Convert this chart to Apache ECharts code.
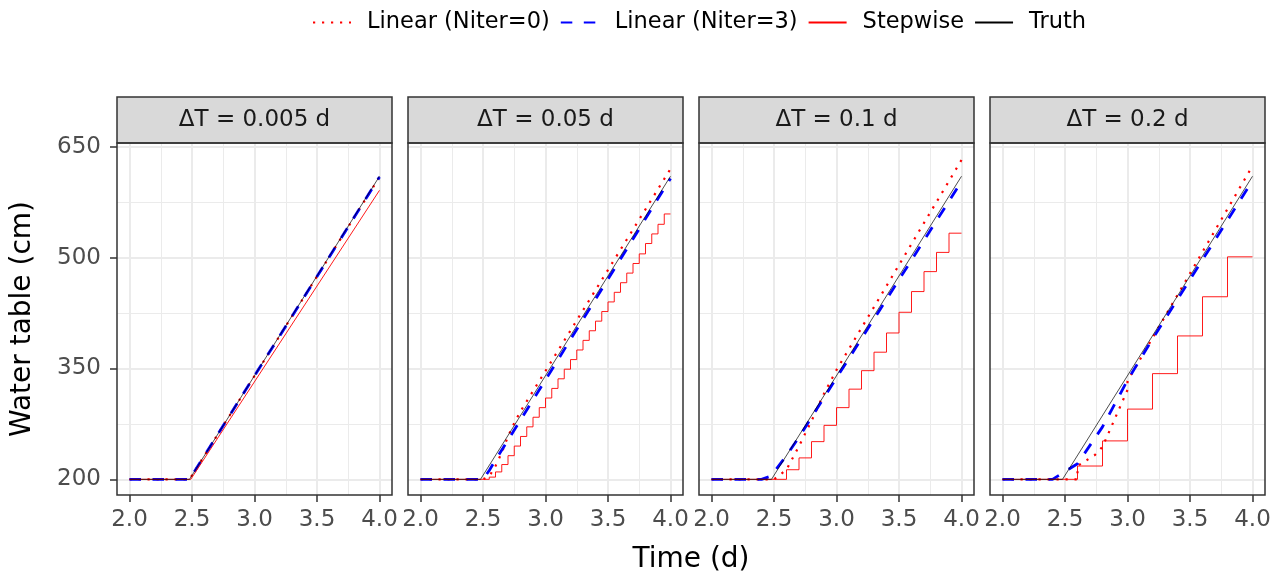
<!DOCTYPE html>
<html><head><meta charset="utf-8">
<script src="https://cdn.jsdelivr.net/npm/echarts@6/dist/echarts.min.js"></script>
<style>html,body{margin:0;padding:0;background:#fff}#c{width:1282px;height:582px}</style>
</head><body><div id="c"></div><script>
// ---- data ----
const panelTitles = ['ΔT = 0.005 d', 'ΔT = 0.05 d', 'ΔT = 0.1 d', 'ΔT = 0.2 d'];
const seriesNames = ['Linear (Niter=0)', 'Linear (Niter=3)', 'Stepwise', 'Truth'];
const xTickValues = [2.0, 2.5, 3.0, 3.5, 4.0];
const xTickLabels = ['2.0', '2.5', '3.0', '3.5', '4.0'];
const xMinorValues = [2.25, 2.75, 3.25, 3.75];
const yTickValues = [200, 350, 500, 650];
const yTickLabels = ['200', '350', '500', '650'];
const yMinorValues = [275, 425, 575];

const truthTime  = [2.0, 2.48, 4.0];
const truthLevel = [200, 200, 610];

// dT = 0.005 d
const p1Niter0Time  = [2.0, 2.48, 4.0];
const p1Niter0Level = [200, 200, 609];
const p1Niter3Time  = [2.0, 2.48, 4.0];
const p1Niter3Level = [200, 200, 609];
const p1StepTime    = [2.0, 2.49, 4.0];
const p1StepLevel   = [200, 200, 591];

// dT = 0.05 d
const p2Niter0Time  = [2.0, 2.5, 2.55, 2.6, 2.65, 2.7, 2.75, 2.8, 4.0];
const p2Niter0Level = [200, 200, 204, 218, 236, 258, 276, 292, 620];
const p2Niter3Time  = [2.0, 2.5, 2.55, 2.6, 2.7, 4.0];
const p2Niter3Level = [200, 200, 212, 226, 253, 607];
const p2StepTime  = [2.0, 2.5, 2.55, 2.6, 2.65, 2.7, 2.75, 2.8, 2.85, 2.9, 2.95, 3.0, 3.05, 3.1, 3.15, 3.2,
                     3.25, 3.3, 3.35, 3.4, 3.45, 3.5, 3.55, 3.6, 3.65, 3.7, 3.75, 3.8, 3.85, 3.9, 3.95, 4.0];
const p2StepLevel = [200, 200, 203, 210, 220, 232, 245, 258, 271, 284, 297, 310, 323, 336, 349, 362,
                     375, 388, 401, 414, 427, 440, 453, 466, 479, 492, 505, 519, 532, 545, 559, 559];

// dT = 0.1 d
const p3Niter0Time  = [2.0, 2.5, 2.6, 2.7, 2.8, 2.9, 3.0, 4.0];
const p3Niter0Level = [200, 200, 213, 245, 279, 316, 348, 632];
const p3Niter3Time  = [2.0, 2.4, 2.47, 2.5, 2.6, 2.7, 2.8, 4.0];
const p3Niter3Level = [200, 200, 204, 210, 232, 257, 284, 603];
const p3StepTime  = [2.0, 2.6, 2.7, 2.8, 2.9, 3.0, 3.1, 3.2, 3.3, 3.4, 3.5, 3.6, 3.7, 3.8, 3.9, 4.0];
const p3StepLevel = [200, 213, 229, 251, 273, 297, 322, 347, 372, 398, 426, 454, 481, 507, 533, 533];

// dT = 0.2 d
const p4Niter0Time  = [2.0, 2.6, 2.6, 2.74, 2.8, 2.86, 3.0, 3.0, 4.0];
const p4Niter0Level = [200, 200, 218, 233, 244, 267, 321, 333, 624];
const p4Niter3Time  = [2.0, 2.4, 2.6, 2.8, 3.0, 3.2, 4.0];
const p4Niter3Level = [200, 200, 221, 271, 334, 390, 604];
const p4StepTime  = [2.0, 2.6, 2.8, 3.0, 3.2, 3.4, 3.6, 3.8, 4.0];
const p4StepLevel = [200, 218, 252, 295, 343, 394, 447, 501, 501];

// ---- layout ----
const FONT = '"DejaVu Sans", "Liberation Sans", sans-serif';
const panelLeft = [117, 408, 699, 990];
const panelW = 275, panelTop = 143, panelH = 352, stripTop = 97, stripH = 46;
const X_MIN = 1.9, X_MAX = 4.1, Y_MIN = 178.8, Y_MAX = 655;

function pairs(t, v) { return t.map((x, i) => [x, v[i]]); }

const panels = [
  { n0: [p1Niter0Time, p1Niter0Level], n3: [p1Niter3Time, p1Niter3Level], st: [p1StepTime, p1StepLevel], step: false },
  { n0: [p2Niter0Time, p2Niter0Level], n3: [p2Niter3Time, p2Niter3Level], st: [p2StepTime, p2StepLevel], step: 'end' },
  { n0: [p3Niter0Time, p3Niter0Level], n3: [p3Niter3Time, p3Niter3Level], st: [p3StepTime, p3StepLevel], step: 'end' },
  { n0: [p4Niter0Time, p4Niter0Level], n3: [p4Niter3Time, p4Niter3Level], st: [p4StepTime, p4StepLevel], step: 'end' }
];

const grids = [], xAxes = [], yAxes = [], series = [], graphics = [];
const GRID = '#EBEBEB';

panels.forEach((p, i) => {
  const left = panelLeft[i];
  grids.push({ left: left, top: panelTop, width: panelW, height: panelH, show: true,
               backgroundColor: '#FFFFFF', borderWidth: 0 });
  xAxes.push({
    type: 'value', gridIndex: i, min: X_MIN, max: X_MAX,
    axisLine: { show: false },
    axisTick: { show: true, customValues: xTickValues, length: 7, lineStyle: { color: '#333333', width: 1.5 } },
    axisLabel: { show: true, customValues: xTickValues, margin: 14, color: '#4D4D4D', fontSize: 23, fontFamily: FONT,
                 formatter: v => { const k = xTickValues.findIndex(t => Math.abs(t - v) < 1e-6); return k >= 0 ? xTickLabels[k] : ''; } },
    splitLine: { show: false }, minorSplitLine: { show: false }
  });
  yAxes.push({
    type: 'value', gridIndex: i, min: Y_MIN, max: Y_MAX,
    axisLine: { show: false },
    axisTick: { show: i === 0, customValues: yTickValues, length: 7, lineStyle: { color: '#333333', width: 1.5 } },
    axisLabel: { show: i === 0, customValues: yTickValues, margin: 16, color: '#4D4D4D', fontSize: 23, fontFamily: FONT,
                 formatter: v => { const k = yTickValues.findIndex(t => Math.abs(t - v) < 1e-6); return k >= 0 ? yTickLabels[k] : ''; } },
    splitLine: { show: false }
  });
  // gridlines
  const ml = [];
  yMinorValues.forEach(v => ml.push({ yAxis: v, lineStyle: { color: GRID, width: 1, type: 'solid' } }));
  xMinorValues.forEach(v => ml.push({ xAxis: v, lineStyle: { color: GRID, width: 1, type: 'solid' } }));
  yTickValues.forEach(v => ml.push({ yAxis: v, lineStyle: { color: GRID, width: 2, type: 'solid' } }));
  xTickValues.forEach(v => ml.push({ xAxis: v, lineStyle: { color: GRID, width: 2, type: 'solid' } }));
  series.push({
    type: 'line', name: 'grid' + i, xAxisIndex: i, yAxisIndex: i, data: [], silent: true, z: 1,
    markLine: { silent: true, symbol: ['none', 'none'], z: 1, animation: false, label: { show: false },
                lineStyle: { color: GRID, type: 'solid' }, emphasis: { disabled: true }, data: ml }
  });
  series.push({
    name: seriesNames[0], type: 'line', xAxisIndex: i, yAxisIndex: i, data: pairs(p.n0[0], p.n0[1]),
    symbol: 'none', silent: true, z: 3, color: '#FF0000',
    lineStyle: { color: '#FF0000', width: 2.2, type: [2.2, 6.8], cap: 'butt' }
  });
  series.push({
    name: seriesNames[1], type: 'line', xAxisIndex: i, yAxisIndex: i, data: pairs(p.n3[0], p.n3[1]),
    symbol: 'none', silent: true, z: 4, color: '#0000FF',
    lineStyle: { color: '#0000FF', width: 2.8, type: [11.5, 11.5], cap: 'butt' }
  });
  series.push({
    name: seriesNames[2], type: 'line', xAxisIndex: i, yAxisIndex: i, data: pairs(p.st[0], p.st[1]),
    step: p.step, symbol: 'none', silent: true, z: 5, color: '#FF0000',
    lineStyle: { color: '#FF0000', width: 0.9, type: 'solid' }
  });
  series.push({
    name: seriesNames[3], type: 'line', xAxisIndex: i, yAxisIndex: i, data: pairs(truthTime, truthLevel),
    symbol: 'none', silent: true, z: 6, color: '#000000',
    lineStyle: { color: '#000000', width: 0.7, type: 'solid' }
  });
  // strip + borders
  graphics.push({ type: 'rect', z: 100, shape: { x: left, y: stripTop, width: panelW, height: stripH },
                  style: { fill: '#D9D9D9', stroke: '#333333', lineWidth: 1.5 } });
  graphics.push({ type: 'text', z: 101, x: left + panelW / 2, y: stripTop + stripH / 2,
                  style: { text: panelTitles[i], fill: '#1A1A1A', font: '23px ' + FONT,
                           textAlign: 'center', textVerticalAlign: 'middle', align: 'center', verticalAlign: 'middle' } });
  graphics.push({ type: 'rect', z: 100, shape: { x: left, y: panelTop, width: panelW, height: panelH },
                  style: { fill: 'none', stroke: '#333333', lineWidth: 1.5 } });
});

graphics.push({ type: 'text', z: 101, x: 23, y: panelTop + panelH / 2, rotation: Math.PI / 2,
                style: { text: 'Water table (cm)', fill: '#000000', font: '28px ' + FONT,
                         textAlign: 'center', textVerticalAlign: 'middle', align: 'center', verticalAlign: 'middle' } });
graphics.push({ type: 'text', z: 101, x: (panelLeft[0] + panelLeft[3] + panelW) / 2, y: 560,
                style: { text: 'Time (d)', fill: '#000000', font: '28px ' + FONT,
                         textAlign: 'center', textVerticalAlign: 'middle', align: 'center', verticalAlign: 'middle' } });

const chart = echarts.init(document.getElementById('c'), null, { renderer: 'canvas' });
chart.setOption({
  animation: false,
  backgroundColor: '#FFFFFF',
  textStyle: { fontFamily: FONT },
  legend: {
    data: seriesNames, left: 307, top: 6, itemWidth: 38, itemHeight: 14, itemGap: 10,
    selectedMode: false,
    itemStyle: { color: 'rgba(0,0,0,0)', borderColor: 'rgba(0,0,0,0)', borderWidth: 0, opacity: 0 },
    textStyle: { fontSize: 22.5, fontFamily: FONT, color: '#000000', padding: [0, 0, 0, 11] }
  },
  grid: grids, xAxis: xAxes, yAxis: yAxes, series: series, graphic: graphics
});
</script></body></html>
